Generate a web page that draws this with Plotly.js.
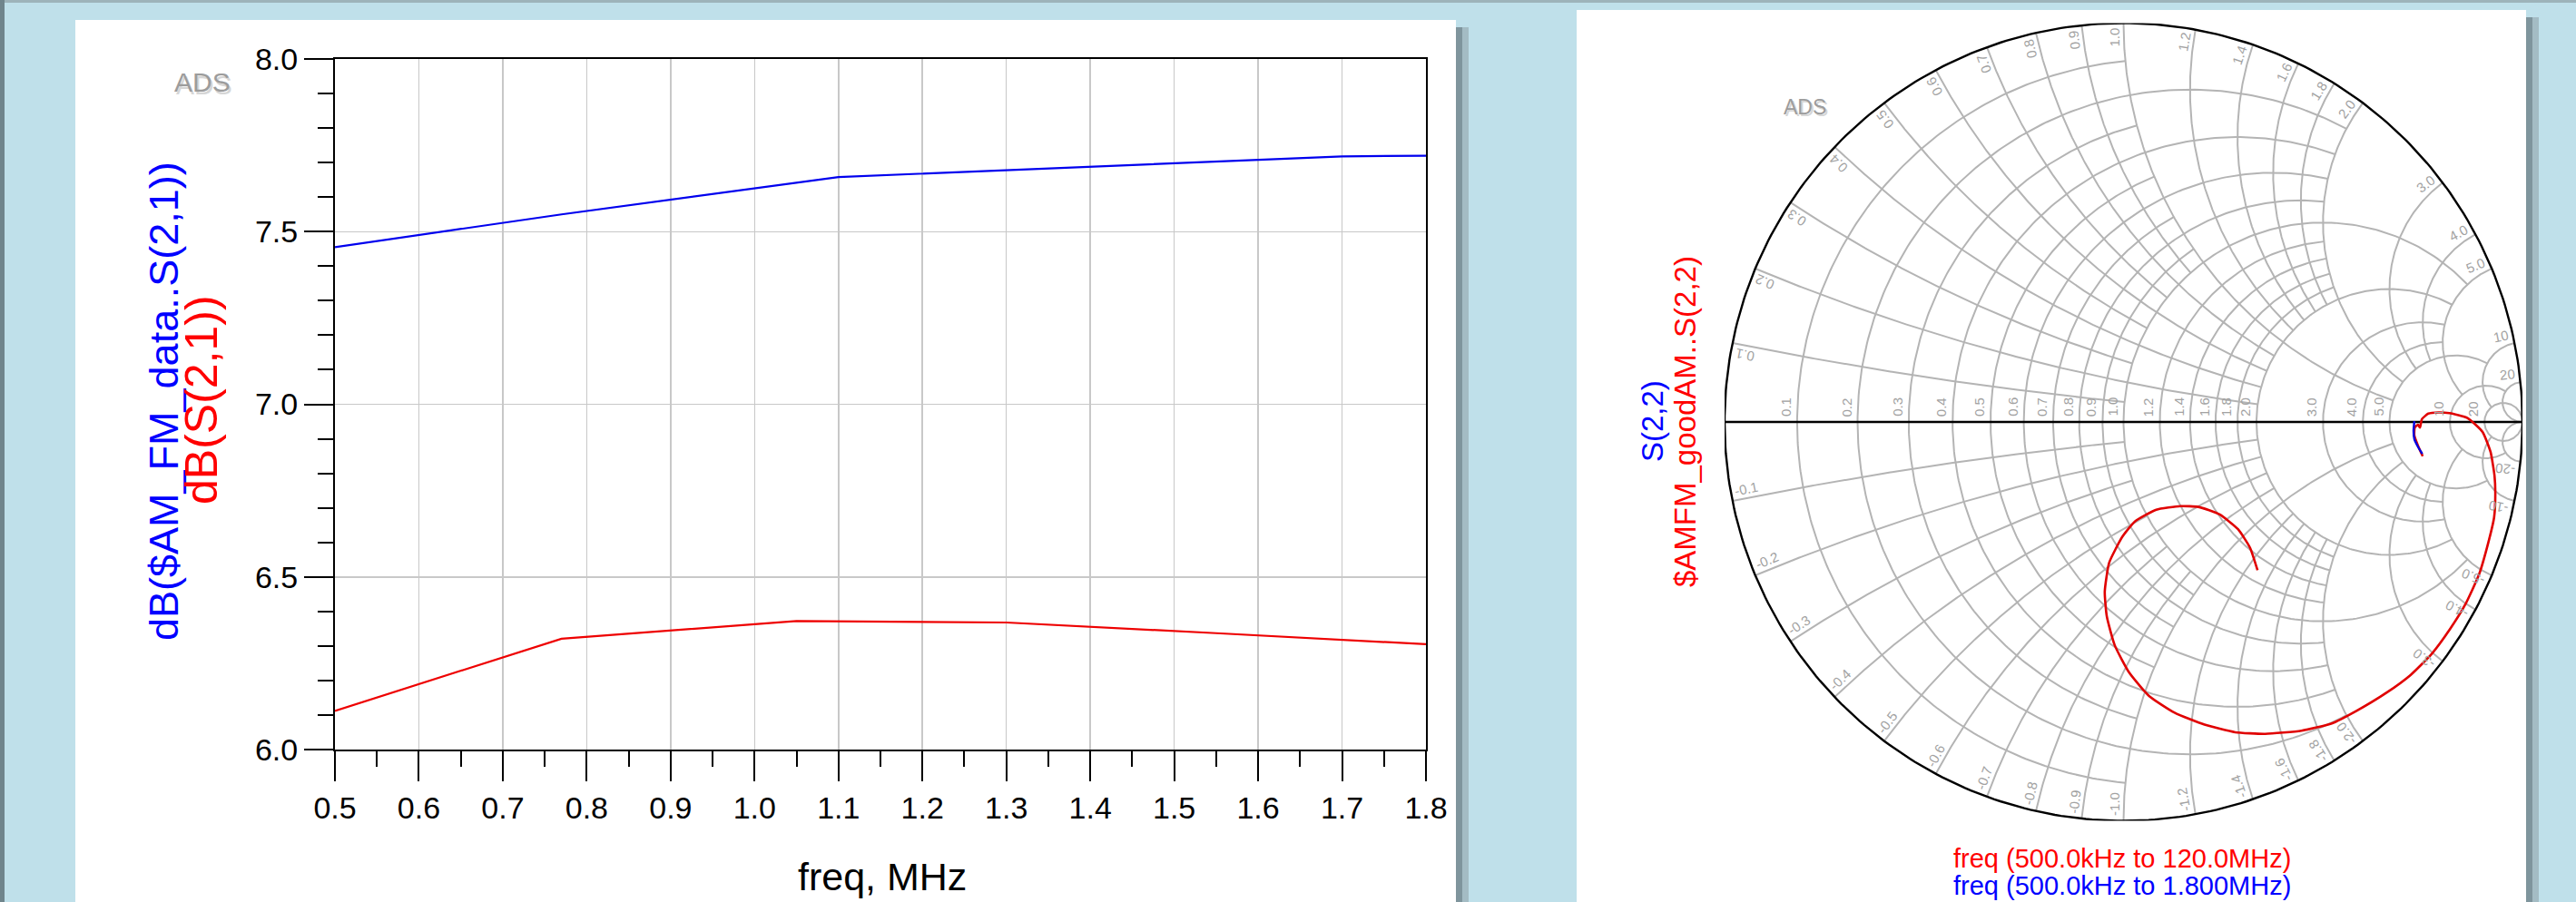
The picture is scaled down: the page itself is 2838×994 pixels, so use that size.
<!DOCTYPE html>
<html><head><meta charset="utf-8">
<script src="https://cdn.plot.ly/plotly-3.0.1.min.js"></script>
<style>html,body{margin:0;padding:0;background:#bfe0ea;} #chart{width:2838px;height:994px;}</style>
</head><body><div id="chart"></div>
<script>
// ---------------- data ----------------
// Left chart: dB(S21) vs frequency (MHz)
const freqMeasMHz = [0.5, 0.77, 1.1, 1.3, 1.5, 1.7, 1.8];
const dBMeasS21   = [7.455, 7.55, 7.658, 7.678, 7.698, 7.718, 7.72];
const freqSimMHz  = [0.5, 0.77, 1.05, 1.3, 1.55, 1.8];
const dBSimS21    = [6.112, 6.321, 6.372, 6.368, 6.337, 6.305];
const xTickLabels = ['0.5','0.6','0.7','0.8','0.9','1.0','1.1','1.2','1.3','1.4','1.5','1.6','1.7','1.8'];
const yTickLabels = ['6.0','6.5','7.0','7.5','8.0'];

// Right chart: reflection coefficient S(2,2) (real, imag)
const goodAMS22Re = [0.750,0.738,0.729,0.730,0.738,0.743,0.748,0.764,0.790,0.817,0.862,0.900,0.920,0.930,0.932,0.929,0.913,0.891,0.856,0.818,0.773,0.720,0.659,0.583,0.522,0.446,0.355,0.280,0.203,0.128,0.064,0.014,-0.022,-0.042,-0.047,-0.036,-0.003,0.029,0.082,0.143,0.188,0.241,0.287,0.317,0.336];
const goodAMS22Im = [-0.086,-0.059,-0.034,-0.014,-0.007,-0.014,0.007,0.021,0.024,0.022,0.010,-0.025,-0.075,-0.135,-0.180,-0.239,-0.308,-0.383,-0.459,-0.520,-0.581,-0.634,-0.679,-0.725,-0.756,-0.774,-0.782,-0.778,-0.759,-0.729,-0.687,-0.628,-0.560,-0.487,-0.425,-0.353,-0.288,-0.249,-0.220,-0.211,-0.213,-0.232,-0.269,-0.315,-0.372];
const measS22Re = [0.729,0.727,0.729,0.738,0.749];
const measS22Im = [0.002,-0.023,-0.043,-0.062,-0.080];

// Smith grid values and where each grid line stops
const smithGridValues = [0.1,0.2,0.3,0.4,0.5,0.6,0.7,0.8,0.9,1.0,1.2,1.4,1.6,1.8,2.0,3.0,4.0,5.0,10,20];
const smithGridLimits = [1,2,1,2,1,2,1,2,1,5,2,2,2,2,5,5,5,10,20,Infinity];

const legendTexts = ['freq (500.0kHz to 120.0MHz)', 'freq (500.0kHz to 1.800MHz)'];

// ---------------- geometry helpers ----------------
const W = 2838, H = 994;
const px = v => v / W, py = v => 1 - v / H;
const FONT = 'Liberation Sans, Arial, sans-serif';
const smithRpx = 439.5;

function gam(r, x) { const d = (r + 1) * (r + 1) + x * x; return [(r * r - 1 + x * x) / d, 2 * x / d]; }
const gx = [], gy = [];
function pushArc(X, Y, cx, cy, rad, a0, a1, n) {
  for (let i = 0; i <= n; i++) { const t = a0 + (a1 - a0) * i / n; X.push(cx + rad * Math.cos(t)); Y.push(cy + rad * Math.sin(t)); }
  X.push(null); Y.push(null);
}
smithGridValues.forEach((v, i) => {
  const lim = smithGridLimits[i];
  const c = v / (1 + v), rad = 1 / (1 + v);
  let a = 0;
  if (isFinite(lim)) { const p = gam(v, lim); a = Math.atan2(p[1], p[0] - c); }
  pushArc(gx, gy, c, 0, rad, a, 2 * Math.PI - a, 260);
  [v, -v].forEach(x => {
    const cy = 1 / x, rr = 1 / Math.abs(x);
    const p0 = gam(0, x), p1 = isFinite(lim) ? gam(lim, x) : [1, 0];
    const a0 = Math.atan2(p0[1] - cy, p0[0] - 1);
    const a1 = Math.atan2(p1[1] - cy, p1[0] - 1);
    let d = a1 - a0; while (d > Math.PI) d -= 2 * Math.PI; while (d < -Math.PI) d += 2 * Math.PI;
    pushArc(gx, gy, 1, cy, rr, a0, a0 + d, 220);
  });
});
const ox = [], oy = [];
pushArc(ox, oy, 0, 0, 1, 0, 2 * Math.PI, 400);
ox.push(-1, 1); oy.push(0, 0);

const fmt = v => (Math.abs(v) < 10 ? v.toFixed(1) : String(v));
const charW = ch => (ch === '.' ? 0.278 : ch === '-' ? 0.333 : 0.556);

const annotations = [];
const labFont = { family: FONT, size: 15, color: '#a2a2a2' };
smithGridValues.forEach(v => {
  annotations.push({ xref: 'x2', yref: 'y2', x: (v - 1) / (v + 1), y: 0, text: fmt(v), textangle: -90,
    xanchor: 'right', yanchor: 'bottom', xshift: -2, yshift: 4, showarrow: false, font: labFont });
  [v, -v].forEach(x => {
    const t = fmt(x);
    const L = t.split('').reduce((s, ch) => s + charW(ch), 0) * labFont.size;
    const p0 = gam(0, x);
    const th = Math.atan2(p0[1], p0[0]);
    const rho = 1 - (L / 2 + 5) / smithRpx;
    const dlt = 10 / (smithRpx * rho);
    const th2 = x > 0 ? th + dlt : th - dlt;
    let ang = x > 0 ? -th * 180 / Math.PI : -(th * 180 / Math.PI + 180);
    while (ang > 180) ang -= 360; while (ang <= -180) ang += 360;
    annotations.push({ xref: 'x2', yref: 'y2', x: rho * Math.cos(th2), y: rho * Math.sin(th2), text: t,
      textangle: ang, xanchor: 'center', yanchor: 'middle', showarrow: false, font: labFont });
  });
});

function pa(x, y, text, opts) {
  return Object.assign({ xref: 'paper', yref: 'paper', x: px(x), y: py(y), text: text, showarrow: false,
    xanchor: 'center', yanchor: 'middle' }, opts);
}
// watermarks
annotations.push(pa(225, 93, 'ADS', { font: { family: FONT, size: 30, color: '#d6d6d6' } }));
annotations.push(pa(223, 91, 'ADS', { font: { family: FONT, size: 30, color: '#9c9c9c' } }));
annotations.push(pa(1990, 120, 'ADS', { font: { family: FONT, size: 23, color: '#d6d6d6' } }));
annotations.push(pa(1988, 118, 'ADS', { font: { family: FONT, size: 23, color: '#9c9c9c' } }));
// left axis titles
annotations.push(pa(180, 442, 'dB($AM_FM_data..S(2,1))', { textangle: -90, font: { family: FONT, size: 45, color: '#0000ff' } }));
annotations.push(pa(222, 441, 'dB(S(2,1))', { textangle: -90, font: { family: FONT, size: 50, color: '#ff0000' } }));
annotations.push(pa(972, 966, 'freq, MHz', { font: { family: FONT, size: 43, color: '#000' } }));
// smith titles
annotations.push(pa(1821, 464, 'S(2,2)', { textangle: -90, font: { family: FONT, size: 33, color: '#0000ff' } }));
annotations.push(pa(1856, 465, '$AMFM_goodAM..S(2,2)', { textangle: -90, font: { family: FONT, size: 33, color: '#ff0000' } }));
annotations.push(pa(2338, 946, legendTexts[0], { font: { family: FONT, size: 29, color: '#ff0000' } }));
annotations.push(pa(2338, 976, legendTexts[1], { font: { family: FONT, size: 29, color: '#0000ff' } }));

const rect = (x0, y0, x1, y1, color) => ({ type: 'rect', xref: 'paper', yref: 'paper', x0: px(x0), x1: px(x1), y0: py(y1), y1: py(y0),
  fillcolor: color, line: { width: 0 }, layer: 'below' });
const shapes = [
  rect(0, 0, W, 3, '#9db3ba'),
  rect(0, 0, 5, H, '#6f858c'),
  rect(83, 22, 1604, H, '#ffffff'),
  rect(1604, 30, 1611, H, '#7f959d'),
  rect(1611, 30, 1618, H, '#a4bcc4'),
  rect(1737, 11, 2783, H, '#ffffff'),
  rect(2783, 19, 2790, H, '#7f959d'),
  rect(2790, 19, 2797, H, '#a4bcc4')
];

const traces = [
  { x: freqMeasMHz, y: dBMeasS21, xaxis: 'x', yaxis: 'y', mode: 'lines', line: { color: '#0000ee', width: 2.2 }, hoverinfo: 'skip' },
  { x: freqSimMHz, y: dBSimS21, xaxis: 'x', yaxis: 'y', mode: 'lines', line: { color: '#ee0000', width: 2.2 }, hoverinfo: 'skip' },
  { x: gx, y: gy, xaxis: 'x2', yaxis: 'y2', mode: 'lines', line: { color: '#b4b4b4', width: 2 }, hoverinfo: 'skip' },
  { x: ox, y: oy, xaxis: 'x2', yaxis: 'y2', mode: 'lines', line: { color: '#000', width: 2.4 }, hoverinfo: 'skip' },
  { x: goodAMS22Re, y: goodAMS22Im, xaxis: 'x2', yaxis: 'y2', mode: 'lines', line: { color: '#e00000', width: 2.6, shape: 'spline', smoothing: 0.5 }, hoverinfo: 'skip' },
  { x: measS22Re, y: measS22Im, xaxis: 'x2', yaxis: 'y2', mode: 'lines', line: { color: '#0000e0', width: 2.4, shape: 'spline', smoothing: 0.5 }, hoverinfo: 'skip' }
];

const tf = { family: FONT, size: 34, color: '#000' };
const layout = {
  width: W, height: H, margin: { l: 0, r: 0, t: 0, b: 0 },
  paper_bgcolor: '#bfe0ea', plot_bgcolor: 'rgba(0,0,0,0)', showlegend: false,
  xaxis: { domain: [px(369), px(1571)], range: [0.5, 1.8], anchor: 'y',
    tickmode: 'array', tickvals: xTickLabels.map(Number), ticktext: xTickLabels,
    ticks: 'outside', ticklen: 33, tickwidth: 2, tickcolor: '#000', tickfont: tf,
    showline: true, linecolor: '#000', linewidth: 2, mirror: true,
    showgrid: true, gridcolor: '#c8c8c8', gridwidth: 1.5, zeroline: false,
    minor: { dtick: 0.05, tick0: 0.5, ticks: 'outside', ticklen: 17, tickwidth: 2, tickcolor: '#000', showgrid: false } },
  yaxis: { domain: [py(826), py(65)], range: [6, 8], anchor: 'x',
    tickmode: 'array', tickvals: yTickLabels.map(Number), ticktext: yTickLabels,
    ticks: 'outside', ticklen: 32, tickwidth: 2, tickcolor: '#000', tickfont: tf,
    showline: true, linecolor: '#000', linewidth: 2, mirror: true,
    showgrid: true, gridcolor: '#c8c8c8', gridwidth: 1.5, zeroline: false,
    minor: { dtick: 0.1, tick0: 6, ticks: 'outside', ticklen: 17, tickwidth: 2, tickcolor: '#000', showgrid: false } },
  xaxis2: { domain: [px(2339.5 - smithRpx), px(2339.5 + smithRpx)], range: [-1, 1], anchor: 'y2', visible: false },
  yaxis2: { domain: [py(465 + smithRpx), py(465 - smithRpx)], range: [-1, 1], anchor: 'x2', visible: false },
  shapes: shapes, annotations: annotations
};
Plotly.newPlot('chart', traces, layout, { displayModeBar: false, staticPlot: true });
</script></body></html>
